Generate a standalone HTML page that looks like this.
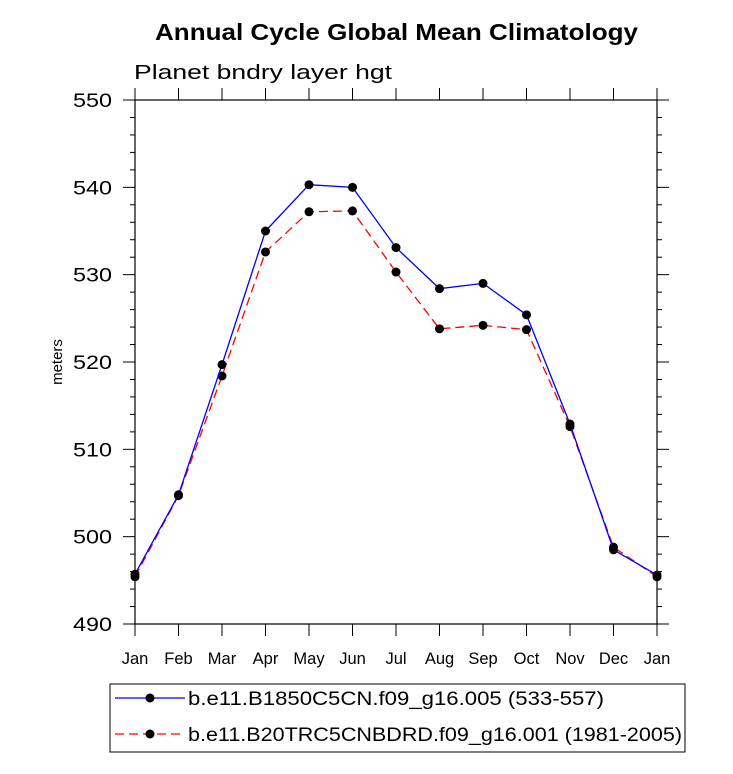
<!DOCTYPE html>
<html><head><meta charset="utf-8"><style>body{margin:0;background:#fff}svg{display:block;font-family:"Liberation Sans",sans-serif}</style></head>
<body>
<svg id="c" width="733" height="774">
<text x="155" y="40" font-size="23" font-weight="bold" textLength="483" lengthAdjust="spacingAndGlyphs">Annual Cycle Global Mean Climatology</text>
<text x="134" y="79" font-size="20" textLength="258" lengthAdjust="spacingAndGlyphs">Planet bndry layer hgt</text>
<text transform="translate(62,362) rotate(-90)" text-anchor="middle" font-size="15">meters</text>
<g id="ax"></g>
<g id="plot"></g>
<rect x="110" y="684" width="575" height="68" fill="none" stroke="#000" stroke-width="1"/>
<g><line x1="115" y1="698" x2="185" y2="698" stroke="#0000ff" stroke-width="1.3"/><circle cx="150" cy="698" r="4.5"/><text x="188" y="705" font-size="19" textLength="416" lengthAdjust="spacingAndGlyphs">b.e11.B1850C5CN.f09_g16.005 (533-557)</text></g>
<g><line x1="115" y1="734" x2="185" y2="734" stroke="#ff0000" stroke-width="1.3" stroke-dasharray="9,5"/><circle cx="150" cy="734" r="4.5"/><text x="188" y="741" font-size="19" textLength="494" lengthAdjust="spacingAndGlyphs">b.e11.B20TRC5CNBDRD.f09_g16.001 (1981-2005)</text></g>
</svg>
<script>
const months=["Jan","Feb","Mar","Apr","May","Jun","Jul","Aug","Sep","Oct","Nov","Dec","Jan"];
const blueVals=[495.7,504.8,519.7,535.0,540.3,540.0,533.1,528.4,529.0,525.4,512.9,498.5,495.6];
const redVals=[495.4,504.7,518.4,532.6,537.2,537.3,530.3,523.8,524.2,523.7,512.6,498.8,495.4];
const yTicks=[490,500,510,520,530,540,550];
const X0=135,X1=657,Y0=624,Y1=100,ymin=490,ymax=550;
const xs=i=>X0+(X1-X0)*i/(months.length-1);
const ys=v=>Y0-(v-ymin)/(ymax-ymin)*(Y0-Y1);
const NS="http://www.w3.org/2000/svg";
function mk(p,t,a){const e=document.createElementNS(NS,t);for(const k in a)e.setAttribute(k,a[k]);p.appendChild(e);return e;}
const ax=document.getElementById('ax'),pl=document.getElementById('plot');
const fr=mk(ax,'rect',{x:X0,y:Y1,width:X1-X0,height:Y0-Y1,fill:'none',stroke:'#000','stroke-width':1.2});


for(let v=ymin;v<=ymax;v+=2){const maj=(v-ymin)%10===0,L=maj?12:5,y=ys(v);
mk(ax,'line',{x1:X0-L,y1:y,x2:X0,y2:y,stroke:'#000'});mk(ax,'line',{x1:X1,y1:y,x2:X1+L,y2:y,stroke:'#000'});}
yTicks.forEach(v=>{const t=mk(ax,'text',{x:112,y:ys(v)+7,'text-anchor':'end','font-size':19,textLength:39,lengthAdjust:'spacingAndGlyphs'});t.textContent=v;

});
months.forEach((m,i)=>{const x=xs(i);mk(ax,'line',{x1:x,y1:Y0,x2:x,y2:Y0+12,stroke:'#000'});mk(ax,'line',{x1:x,y1:Y1-12,x2:x,y2:Y1,stroke:'#000'});
const t=mk(ax,'text',{x:x,y:664,'text-anchor':'middle','font-size':16.5});t.textContent=m;

});
function series(vals,col,dash,name){const pts=vals.map((v,i)=>xs(i)+','+ys(v)).join(' ');
const l=mk(pl,'polyline',{points:pts,fill:'none',stroke:col,'stroke-width':1.3,'stroke-dasharray':dash});


vals.forEach((v,i)=>{const c=mk(pl,'circle',{cx:xs(i),cy:ys(v),r:4.5});

});}
series(redVals,'#ff0000','9,5','red-series');
series(blueVals,'#0000ff','none','blue-series');
</script>
</body></html>
